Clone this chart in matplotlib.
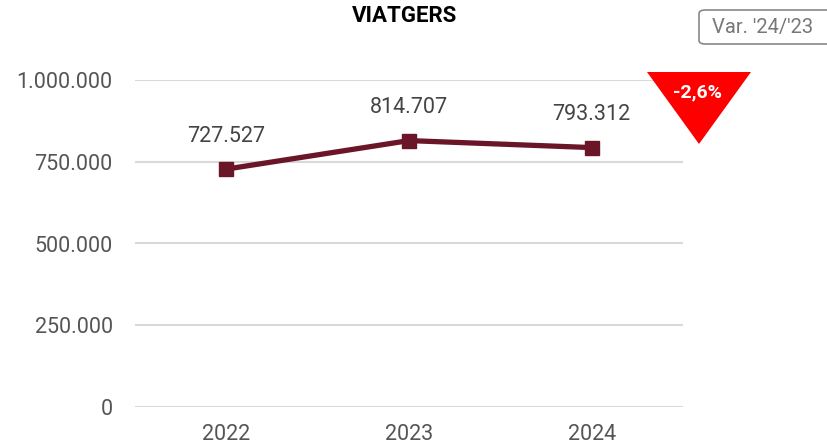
import matplotlib
matplotlib.use("Agg")
import matplotlib.pyplot as plt
from matplotlib.patches import Polygon, FancyBboxPatch

# Data
years = ["2022", "2023", "2024"]
viatgers = [727527, 814707, 793312]
y_ticks = [0, 250000, 500000, 750000, 1000000]
variation_label = "-2,6%"
variation_title = "Var. '24/'23"


def fmt_thousands(v):
    return "{:,}".format(int(v)).replace(",", ".")


plt.rcParams["font.family"] = ["Roboto", "DejaVu Sans"]

fig = plt.figure(figsize=(8.27, 4.48), dpi=100)
ax = fig.add_axes([135 / 827, 1 - 407 / 448, 548 / 827, 327 / 448])

x = list(range(len(years)))
ax.plot(x, viatgers, color="#6b1628", linewidth=3.8, marker="s",
        markersize=10.5, solid_capstyle="butt", zorder=3)

for xi, v in zip(x, viatgers):
    ax.annotate(fmt_thousands(v), (xi, v), xytext=(0, 16),
                textcoords="offset points", ha="center", va="bottom",
                fontsize=15.5, color="#444444")

ax.set_xlim(-0.5, len(years) - 0.5)
ax.set_ylim(0, 1000000)
ax.set_yticks(y_ticks)
ax.set_yticklabels([fmt_thousands(t) for t in y_ticks])
ax.set_xticks(x)
ax.set_xticklabels(years)
ax.tick_params(axis="both", length=0, labelsize=15.5, labelcolor="#555555")
ax.tick_params(axis="y", pad=16)
ax.tick_params(axis="x", pad=12)
ax.grid(axis="y", color="#d9d9d9", linewidth=1.5)
ax.set_axisbelow(True)
for s in ax.spines.values():
    s.set_visible(False)

# Title
fig.text(405 / 827, 1 - 16 / 448, "VIATGERS", ha="center", va="center",
         fontsize=16, fontweight="bold", color="black")

# Variation box
box = FancyBboxPatch((699 / 827, 1 - 44 / 448), 135 / 827, 34 / 448,
                     boxstyle="round,pad=0,rounding_size=0.008",
                     transform=fig.transFigure, facecolor="white",
                     edgecolor="#888888", linewidth=1.2)
fig.patches.append(box)
fig.text(763 / 827, 1 - 27 / 448, variation_title, ha="center", va="center",
         fontsize=14.5, color="#777777")

# Red down triangle
tri = Polygon([(647 / 827, 1 - 72 / 448), (751 / 827, 1 - 72 / 448),
               (699 / 827, 1 - 144 / 448)], closed=True,
              transform=fig.transFigure, facecolor="#ff0000",
              edgecolor="none")
fig.patches.append(tri)
fig.text(698 / 827, 1 - 92 / 448, variation_label, ha="center",
         va="center", fontsize=14, fontweight="bold", color="white")

fig.savefig("out.png", dpi=100)
